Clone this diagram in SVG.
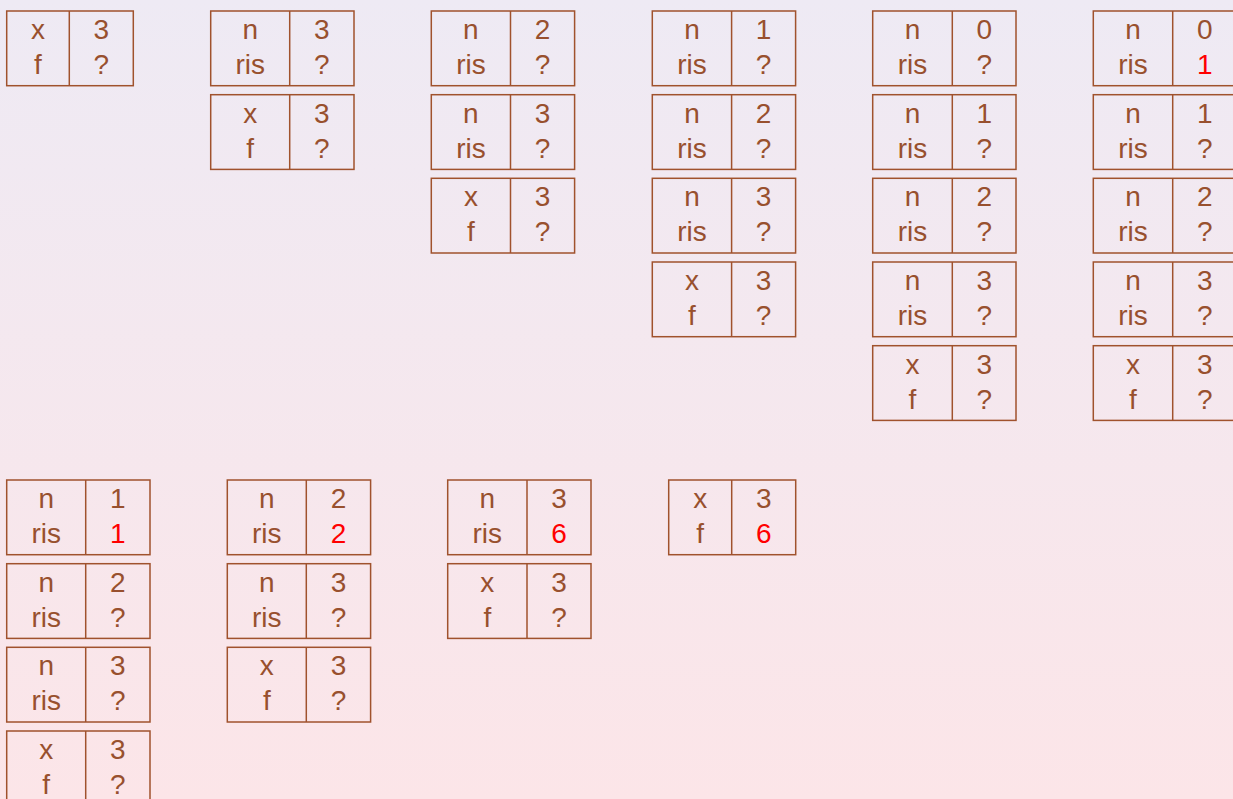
<svg xmlns="http://www.w3.org/2000/svg" width="1233" height="799" viewBox="0 0 1233 799">
<defs>
<linearGradient id="bg" x1="0" y1="0" x2="0" y2="1">
<stop offset="0" stop-color="#EEEAF4"/>
<stop offset="1" stop-color="#FCE5E8"/>
</linearGradient>
</defs>
<style>
.b{fill:none;stroke:#A0522D;stroke-width:1.5}
.t{font-family:"Liberation Sans",Arial,sans-serif;font-size:28px;fill:#98502E;text-anchor:middle}
.r{fill:#FF0000}
</style>
<rect width="1233" height="799" fill="url(#bg)"/>
<g id="connectors"/>

<!-- Top row, column 1 -->
<g id="t1b1"><rect class="b" x="6.7" y="11" width="126.6" height="74.7"/><line class="b" x1="69.3" y1="11" x2="69.3" y2="85.7"/><text class="t" x="38" y="39">x</text><text class="t" x="101.3" y="39">3</text><text class="t" x="38" y="74">f</text><text class="t" x="101.3" y="74">?</text></g>

<!-- Top row, column 2 -->
<g id="t2b1"><rect class="b" x="210.7" y="11" width="143.3" height="74.7"/><line class="b" x1="289.7" y1="11" x2="289.7" y2="85.7"/><text class="t" x="250.2" y="39">n</text><text class="t" x="321.8" y="39">3</text><text class="t" x="250.2" y="74">ris</text><text class="t" x="321.8" y="74">?</text></g>
<g id="t2b2"><rect class="b" x="210.7" y="94.7" width="143.3" height="74.7"/><line class="b" x1="289.7" y1="94.7" x2="289.7" y2="169.4"/><text class="t" x="250.2" y="122.7">x</text><text class="t" x="321.8" y="122.7">3</text><text class="t" x="250.2" y="157.7">f</text><text class="t" x="321.8" y="157.7">?</text></g>

<!-- Top row, column 3 -->
<g id="t3b1"><rect class="b" x="431.3" y="11" width="143.3" height="74.7"/><line class="b" x1="510.5" y1="11" x2="510.5" y2="85.7"/><text class="t" x="470.9" y="39">n</text><text class="t" x="542.6" y="39">2</text><text class="t" x="470.9" y="74">ris</text><text class="t" x="542.6" y="74">?</text></g>
<g id="t3b2"><rect class="b" x="431.3" y="94.7" width="143.3" height="74.7"/><line class="b" x1="510.5" y1="94.7" x2="510.5" y2="169.4"/><text class="t" x="470.9" y="122.7">n</text><text class="t" x="542.6" y="122.7">3</text><text class="t" x="470.9" y="157.7">ris</text><text class="t" x="542.6" y="157.7">?</text></g>
<g id="t3b3"><rect class="b" x="431.3" y="178.3" width="143.3" height="74.7"/><line class="b" x1="510.5" y1="178.3" x2="510.5" y2="253"/><text class="t" x="470.9" y="206.3">x</text><text class="t" x="542.6" y="206.3">3</text><text class="t" x="470.9" y="241.3">f</text><text class="t" x="542.6" y="241.3">?</text></g>

<!-- Top row, column 4 -->
<g id="t4b1"><rect class="b" x="652.3" y="11" width="143.3" height="74.7"/><line class="b" x1="731.6" y1="11" x2="731.6" y2="85.7"/><text class="t" x="692" y="39">n</text><text class="t" x="763.6" y="39">1</text><text class="t" x="692" y="74">ris</text><text class="t" x="763.6" y="74">?</text></g>
<g id="t4b2"><rect class="b" x="652.3" y="94.7" width="143.3" height="74.7"/><line class="b" x1="731.6" y1="94.7" x2="731.6" y2="169.4"/><text class="t" x="692" y="122.7">n</text><text class="t" x="763.6" y="122.7">2</text><text class="t" x="692" y="157.7">ris</text><text class="t" x="763.6" y="157.7">?</text></g>
<g id="t4b3"><rect class="b" x="652.3" y="178.3" width="143.3" height="74.7"/><line class="b" x1="731.6" y1="178.3" x2="731.6" y2="253"/><text class="t" x="692" y="206.3">n</text><text class="t" x="763.6" y="206.3">3</text><text class="t" x="692" y="241.3">ris</text><text class="t" x="763.6" y="241.3">?</text></g>
<g id="t4b4"><rect class="b" x="652.3" y="262" width="143.3" height="74.7"/><line class="b" x1="731.6" y1="262" x2="731.6" y2="336.7"/><text class="t" x="692" y="290">x</text><text class="t" x="763.6" y="290">3</text><text class="t" x="692" y="325">f</text><text class="t" x="763.6" y="325">?</text></g>

<!-- Top row, column 5 -->
<g id="t5b1"><rect class="b" x="872.7" y="11" width="143.3" height="74.7"/><line class="b" x1="952.3" y1="11" x2="952.3" y2="85.7"/><text class="t" x="912.5" y="39">n</text><text class="t" x="984.2" y="39">0</text><text class="t" x="912.5" y="74">ris</text><text class="t" x="984.2" y="74">?</text></g>
<g id="t5b2"><rect class="b" x="872.7" y="94.7" width="143.3" height="74.7"/><line class="b" x1="952.3" y1="94.7" x2="952.3" y2="169.4"/><text class="t" x="912.5" y="122.7">n</text><text class="t" x="984.2" y="122.7">1</text><text class="t" x="912.5" y="157.7">ris</text><text class="t" x="984.2" y="157.7">?</text></g>
<g id="t5b3"><rect class="b" x="872.7" y="178.3" width="143.3" height="74.7"/><line class="b" x1="952.3" y1="178.3" x2="952.3" y2="253"/><text class="t" x="912.5" y="206.3">n</text><text class="t" x="984.2" y="206.3">2</text><text class="t" x="912.5" y="241.3">ris</text><text class="t" x="984.2" y="241.3">?</text></g>
<g id="t5b4"><rect class="b" x="872.7" y="262" width="143.3" height="74.7"/><line class="b" x1="952.3" y1="262" x2="952.3" y2="336.7"/><text class="t" x="912.5" y="290">n</text><text class="t" x="984.2" y="290">3</text><text class="t" x="912.5" y="325">ris</text><text class="t" x="984.2" y="325">?</text></g>
<g id="t5b5"><rect class="b" x="872.7" y="345.7" width="143.3" height="74.7"/><line class="b" x1="952.3" y1="345.7" x2="952.3" y2="420.4"/><text class="t" x="912.5" y="373.7">x</text><text class="t" x="984.2" y="373.7">3</text><text class="t" x="912.5" y="408.7">f</text><text class="t" x="984.2" y="408.7">?</text></g>

<!-- Top row, column 6 -->
<g id="t6b1"><rect class="b" x="1093.3" y="11" width="143.3" height="74.7"/><line class="b" x1="1172.7" y1="11" x2="1172.7" y2="85.7"/><text class="t" x="1133" y="39">n</text><text class="t" x="1204.7" y="39">0</text><text class="t" x="1133" y="74">ris</text><text class="t r" x="1204.7" y="74">1</text></g>
<g id="t6b2"><rect class="b" x="1093.3" y="94.7" width="143.3" height="74.7"/><line class="b" x1="1172.7" y1="94.7" x2="1172.7" y2="169.4"/><text class="t" x="1133" y="122.7">n</text><text class="t" x="1204.7" y="122.7">1</text><text class="t" x="1133" y="157.7">ris</text><text class="t" x="1204.7" y="157.7">?</text></g>
<g id="t6b3"><rect class="b" x="1093.3" y="178.3" width="143.3" height="74.7"/><line class="b" x1="1172.7" y1="178.3" x2="1172.7" y2="253"/><text class="t" x="1133" y="206.3">n</text><text class="t" x="1204.7" y="206.3">2</text><text class="t" x="1133" y="241.3">ris</text><text class="t" x="1204.7" y="241.3">?</text></g>
<g id="t6b4"><rect class="b" x="1093.3" y="262" width="143.3" height="74.7"/><line class="b" x1="1172.7" y1="262" x2="1172.7" y2="336.7"/><text class="t" x="1133" y="290">n</text><text class="t" x="1204.7" y="290">3</text><text class="t" x="1133" y="325">ris</text><text class="t" x="1204.7" y="325">?</text></g>
<g id="t6b5"><rect class="b" x="1093.3" y="345.7" width="143.3" height="74.7"/><line class="b" x1="1172.7" y1="345.7" x2="1172.7" y2="420.4"/><text class="t" x="1133" y="373.7">x</text><text class="t" x="1204.7" y="373.7">3</text><text class="t" x="1133" y="408.7">f</text><text class="t" x="1204.7" y="408.7">?</text></g>

<!-- Bottom row, column 1 -->
<g id="b1b1"><rect class="b" x="6.7" y="480" width="143.3" height="74.7"/><line class="b" x1="85.7" y1="480" x2="85.7" y2="554.7"/><text class="t" x="46.2" y="508">n</text><text class="t" x="117.8" y="508">1</text><text class="t" x="46.2" y="543">ris</text><text class="t r" x="117.8" y="543">1</text></g>
<g id="b1b2"><rect class="b" x="6.7" y="563.7" width="143.3" height="74.7"/><line class="b" x1="85.7" y1="563.7" x2="85.7" y2="638.4"/><text class="t" x="46.2" y="591.7">n</text><text class="t" x="117.8" y="591.7">2</text><text class="t" x="46.2" y="626.7">ris</text><text class="t" x="117.8" y="626.7">?</text></g>
<g id="b1b3"><rect class="b" x="6.7" y="647.3" width="143.3" height="74.7"/><line class="b" x1="85.7" y1="647.3" x2="85.7" y2="722"/><text class="t" x="46.2" y="675.3">n</text><text class="t" x="117.8" y="675.3">3</text><text class="t" x="46.2" y="710.3">ris</text><text class="t" x="117.8" y="710.3">?</text></g>
<g id="b1b4"><rect class="b" x="6.7" y="731" width="143.3" height="74.7"/><line class="b" x1="85.7" y1="731" x2="85.7" y2="805.7"/><text class="t" x="46.2" y="759">x</text><text class="t" x="117.8" y="759">3</text><text class="t" x="46.2" y="794">f</text><text class="t" x="117.8" y="794">?</text></g>

<!-- Bottom row, column 2 -->
<g id="b2b1"><rect class="b" x="227.3" y="480" width="143.3" height="74.7"/><line class="b" x1="306.3" y1="480" x2="306.3" y2="554.7"/><text class="t" x="266.8" y="508">n</text><text class="t" x="338.5" y="508">2</text><text class="t" x="266.8" y="543">ris</text><text class="t r" x="338.5" y="543">2</text></g>
<g id="b2b2"><rect class="b" x="227.3" y="563.7" width="143.3" height="74.7"/><line class="b" x1="306.3" y1="563.7" x2="306.3" y2="638.4"/><text class="t" x="266.8" y="591.7">n</text><text class="t" x="338.5" y="591.7">3</text><text class="t" x="266.8" y="626.7">ris</text><text class="t" x="338.5" y="626.7">?</text></g>
<g id="b2b3"><rect class="b" x="227.3" y="647.3" width="143.3" height="74.7"/><line class="b" x1="306.3" y1="647.3" x2="306.3" y2="722"/><text class="t" x="266.8" y="675.3">x</text><text class="t" x="338.5" y="675.3">3</text><text class="t" x="266.8" y="710.3">f</text><text class="t" x="338.5" y="710.3">?</text></g>

<!-- Bottom row, column 3 -->
<g id="b3b1"><rect class="b" x="447.7" y="480" width="143.3" height="74.7"/><line class="b" x1="527" y1="480" x2="527" y2="554.7"/><text class="t" x="487.3" y="508">n</text><text class="t" x="559" y="508">3</text><text class="t" x="487.3" y="543">ris</text><text class="t r" x="559" y="543">6</text></g>
<g id="b3b2"><rect class="b" x="447.7" y="563.7" width="143.3" height="74.7"/><line class="b" x1="527" y1="563.7" x2="527" y2="638.4"/><text class="t" x="487.3" y="591.7">x</text><text class="t" x="559" y="591.7">3</text><text class="t" x="487.3" y="626.7">f</text><text class="t" x="559" y="626.7">?</text></g>

<!-- Bottom row, column 4 -->
<g id="b4b1"><rect class="b" x="668.7" y="480" width="127" height="74.7"/><line class="b" x1="731.7" y1="480" x2="731.7" y2="554.7"/><text class="t" x="700.2" y="508">x</text><text class="t" x="763.7" y="508">3</text><text class="t" x="700.2" y="543">f</text><text class="t r" x="763.7" y="543">6</text></g>
</svg>
